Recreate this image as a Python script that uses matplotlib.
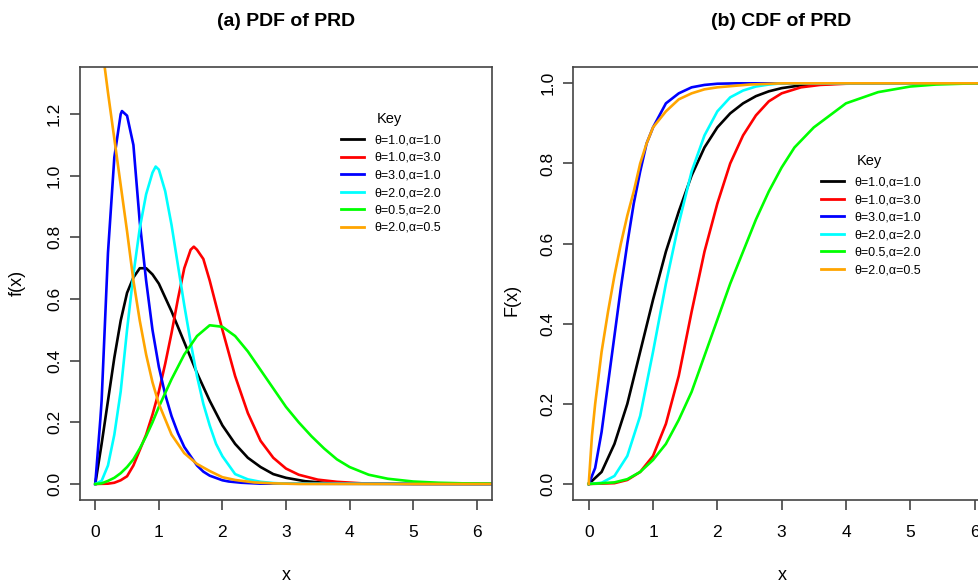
import matplotlib
matplotlib.use("Agg")
import matplotlib.pyplot as plt
from matplotlib import font_manager

# legend labels and colours (same order in both panels)
labels = ["θ=1.0,α=1.0", "θ=1.0,α=3.0", "θ=3.0,α=1.0",
          "θ=2.0,α=2.0", "θ=0.5,α=2.0", "θ=2.0,α=0.5"]
colors = ["black", "#FF0000", "#0000FF", "#00FFFF", "#00FF00", "#FFA500"]

# ---- (a) PDF values ----
pdf_x_black = [0, 0.1, 0.2, 0.3, 0.4, 0.5, 0.6, 0.7, 0.8, 0.9, 1.0, 1.2, 1.4, 1.6,
               1.8, 2.0, 2.2, 2.4, 2.6, 2.8, 3.0, 3.3, 3.6, 4.0, 6.3]
pdf_y_black = [0, 0.13, 0.27, 0.41, 0.53, 0.62, 0.67, 0.70, 0.70, 0.68, 0.65, 0.56, 0.46, 0.36,
               0.27, 0.19, 0.13, 0.085, 0.055, 0.032, 0.02, 0.009, 0.004, 0.001, 0]

pdf_x_red = [0, 0.2, 0.3, 0.4, 0.5, 0.6, 0.7, 0.8, 0.9, 1.0, 1.1, 1.2, 1.3, 1.4, 1.5, 1.55,
             1.6, 1.7, 1.8, 1.9, 2.0, 2.2, 2.4, 2.6, 2.8, 3.0, 3.2, 3.5, 3.8, 4.2, 5.0, 6.3]
pdf_y_red = [0, 0.001, 0.004, 0.012, 0.025, 0.06, 0.11, 0.16, 0.225, 0.3, 0.39, 0.49, 0.6, 0.7, 0.76, 0.77,
             0.76, 0.73, 0.66, 0.58, 0.5, 0.35, 0.23, 0.14, 0.085, 0.05, 0.03, 0.014, 0.007, 0.002, 0, 0]

pdf_x_blue = [0, 0.08, 0.1, 0.2, 0.3, 0.4, 0.42, 0.5, 0.6, 0.7, 0.8, 0.9, 1.0, 1.1, 1.2,
              1.3, 1.4, 1.5, 1.6, 1.7, 1.8, 2.0, 2.1, 2.3, 2.6, 6.3]
pdf_y_blue = [0, 0.21, 0.27, 0.75, 1.06, 1.2, 1.21, 1.195, 1.1, 0.85, 0.66, 0.5, 0.38, 0.29, 0.22,
              0.165, 0.12, 0.09, 0.06, 0.04, 0.027, 0.012, 0.008, 0.004, 0.001, 0]

pdf_x_cyan = [0, 0.1, 0.2, 0.3, 0.4, 0.5, 0.6, 0.7, 0.8, 0.9, 0.95, 1.0, 1.1, 1.2, 1.3,
              1.4, 1.5, 1.6, 1.7, 1.8, 1.9, 2.0, 2.2, 2.4, 2.6, 2.8, 3.0, 6.3]
pdf_y_cyan = [0, 0.01, 0.06, 0.16, 0.3, 0.5, 0.68, 0.83, 0.94, 1.01, 1.03, 1.02, 0.95, 0.84, 0.71,
              0.58, 0.46, 0.35, 0.26, 0.19, 0.13, 0.09, 0.032, 0.015, 0.007, 0.003, 0.001, 0]

pdf_x_green = [0, 0.1, 0.2, 0.3, 0.4, 0.5, 0.6, 0.7, 0.8, 0.9, 1.0, 1.2, 1.4, 1.6, 1.8, 2.0,
               2.2, 2.4, 2.6, 2.8, 3.0, 3.2, 3.4, 3.6, 3.8, 4.0, 4.3, 4.6, 5.0, 5.4, 5.8, 6.3]
pdf_y_green = [0, 0.002, 0.01, 0.02, 0.035, 0.055, 0.08, 0.115, 0.155, 0.2, 0.25, 0.34, 0.42, 0.48, 0.515, 0.51,
               0.48, 0.43, 0.37, 0.31, 0.25, 0.2, 0.155, 0.115, 0.08, 0.055, 0.03, 0.017, 0.008, 0.004, 0.002, 0.001]

pdf_x_orange = [0.1, 0.15, 0.2, 0.3, 0.4, 0.5, 0.6, 0.7, 0.8, 0.9, 1.0, 1.2, 1.4, 1.6,
                1.8, 2.0, 2.2, 2.5, 2.8, 3.2, 6.3]
pdf_y_orange = [1.42, 1.35, 1.27, 1.12, 0.97, 0.82, 0.66, 0.53, 0.42, 0.33, 0.26, 0.16, 0.1, 0.065,
                0.042, 0.022, 0.013, 0.005, 0.002, 0, 0]

# ---- (b) CDF values ----
cdf_x_black = [0, 0.2, 0.4, 0.6, 0.8, 1.0, 1.2, 1.4, 1.6, 1.8, 2.0, 2.2, 2.4, 2.6, 2.8,
               3.0, 3.3, 3.6, 4.0, 6.3]
cdf_y_black = [0, 0.03, 0.1, 0.2, 0.33, 0.46, 0.58, 0.68, 0.77, 0.84, 0.89, 0.925, 0.95, 0.968, 0.98,
               0.988, 0.995, 0.998, 1.0, 1.0]

cdf_x_red = [0, 0.4, 0.6, 0.8, 1.0, 1.2, 1.4, 1.6, 1.8, 2.0, 2.2, 2.4, 2.6, 2.8, 3.0,
             3.3, 3.6, 4.0, 4.5, 6.3]
cdf_y_red = [0, 0.002, 0.01, 0.03, 0.07, 0.15, 0.27, 0.43, 0.58, 0.7, 0.8, 0.87, 0.92, 0.955, 0.975,
             0.99, 0.996, 0.999, 1.0, 1.0]

cdf_x_blue = [0, 0.1, 0.2, 0.3, 0.4, 0.5, 0.6, 0.7, 0.8, 0.9, 1.0, 1.2, 1.4, 1.6, 1.8,
              2.0, 2.3, 6.3]
cdf_y_blue = [0, 0.04, 0.13, 0.25, 0.37, 0.49, 0.6, 0.7, 0.78, 0.85, 0.89, 0.95, 0.975, 0.99, 0.996,
              0.999, 1.0, 1.0]

cdf_x_cyan = [0, 0.2, 0.4, 0.6, 0.8, 1.0, 1.2, 1.4, 1.6, 1.8, 2.0, 2.2, 2.4, 2.6, 2.8,
              3.0, 6.3]
cdf_y_cyan = [0, 0.003, 0.02, 0.07, 0.17, 0.33, 0.5, 0.65, 0.78, 0.87, 0.93, 0.965, 0.982, 0.992, 0.997,
              1.0, 1.0]

cdf_x_green = [0, 0.4, 0.6, 0.8, 1.0, 1.2, 1.4, 1.6, 1.8, 2.0, 2.2, 2.4, 2.6, 2.8, 3.0,
               3.2, 3.5, 4.0, 4.5, 5.0, 5.4, 6.0, 6.3]
cdf_y_green = [0, 0.004, 0.012, 0.03, 0.06, 0.1, 0.16, 0.23, 0.32, 0.41, 0.5, 0.58, 0.66, 0.73, 0.79,
               0.84, 0.89, 0.95, 0.978, 0.992, 0.997, 1.0, 1.0]

cdf_x_orange = [0, 0.05, 0.1, 0.2, 0.3, 0.4, 0.5, 0.6, 0.7, 0.8, 0.9, 1.0, 1.2, 1.4, 1.6,
                1.8, 2.0, 2.5, 3.0, 6.3]
cdf_y_orange = [0, 0.12, 0.2, 0.33, 0.43, 0.52, 0.6, 0.67, 0.73, 0.8, 0.85, 0.89, 0.93, 0.96, 0.975,
                0.985, 0.99, 0.997, 1.0, 1.0]

pdf_curves = [(pdf_x_black, pdf_y_black), (pdf_x_red, pdf_y_red), (pdf_x_blue, pdf_y_blue),
              (pdf_x_cyan, pdf_y_cyan), (pdf_x_green, pdf_y_green), (pdf_x_orange, pdf_y_orange)]
cdf_curves = [(cdf_x_black, cdf_y_black), (cdf_x_red, cdf_y_red), (cdf_x_blue, cdf_y_blue),
              (cdf_x_cyan, cdf_y_cyan), (cdf_x_green, cdf_y_green), (cdf_x_orange, cdf_y_orange)]

names = {f.name for f in font_manager.fontManager.ttflist}
narrow = "Liberation Sans Narrow" if "Liberation Sans Narrow" in names else "Liberation Sans"
regular = "Liberation Sans"
plt.rcParams["font.family"] = [narrow, "DejaVu Sans"]

W, H = 979, 584
fig = plt.figure(figsize=(W / 100, H / 100), dpi=100)
axis_col = "#444444"


def px_box(left, top, right, bottom):
    return [left / W, 1 - bottom / H, (right - left) / W, (bottom - top) / H]


def style_axes(ax, yticks):
    for s in ax.spines.values():
        s.set_color(axis_col)
        s.set_linewidth(1.2)
    ax.set_xticks(range(0, 7))
    ax.set_yticks(yticks)
    ax.set_yticklabels([f"{v:.1f}" for v in yticks])
    ax.tick_params(axis="both", direction="out", length=7, width=1.2, color=axis_col,
                   labelsize=12.5, labelcolor="black")
    ax.tick_params(axis="x", pad=11)
    ax.tick_params(axis="y", pad=6, labelrotation=90)
    for lab in ax.get_yticklabels():
        lab.set_va("center")


def add_key(ax, left, top, key_x, key_y):
    leg = ax.legend(labels, loc="upper left", bbox_to_anchor=(left / W, 1 - top / H),
                    bbox_transform=fig.transFigure, frameon=False,
                    prop={"family": regular, "size": 9},
                    handlelength=1.85, handletextpad=0.8, labelspacing=0.44, borderpad=0,
                    borderaxespad=0)
    for line in leg.get_lines():
        line.set_linewidth(2)
    fig.text(key_x / W, 1 - key_y / H, "Key", ha="center", va="center",
             family=regular, fontsize=10.5)


# (a) PDF
ax1 = fig.add_axes(px_box(80, 67.3, 492, 500))
for (x, y), c in zip(pdf_curves, colors):
    ax1.plot(x, y, color=c, lw=1.9, solid_joinstyle="round")
ax1.set_xlim(-0.24, 6.24)
ax1.set_ylim(-0.052, 1.352)
style_axes(ax1, [0.0, 0.2, 0.4, 0.6, 0.8, 1.0, 1.2])
add_key(ax1, 341, 134.5, 389, 119.5)

# (b) CDF, its right border runs past the picture edge as in the original
ax2 = fig.add_axes(px_box(573.3, 67.3, 990, 500))
for (x, y), c in zip(cdf_curves, colors):
    ax2.plot(x, y, color=c, lw=1.9, solid_joinstyle="round")
ax2.set_xlim(-0.24, 6.24)
ax2.set_ylim(-0.04, 1.04)
style_axes(ax2, [0.0, 0.2, 0.4, 0.6, 0.8, 1.0])
add_key(ax2, 821, 176.5, 869, 161)

fig.text(286 / W, 1 - 22 / H, "(a) PDF of PRD", ha="center", va="center", fontsize=14, fontweight="bold")
fig.text(781 / W, 1 - 22 / H, "(b) CDF of PRD", ha="center", va="center", fontsize=14, fontweight="bold")
fig.text(286 / W, 1 - 576 / H, "x", ha="center", va="center", fontsize=13)
fig.text(782 / W, 1 - 576 / H, "x", ha="center", va="center", fontsize=13)
fig.text(17 / W, 1 - 283 / H, "f(x)", ha="center", va="center", rotation=90, fontsize=13)
fig.text(512 / W, 1 - 300 / H, "F(x)", ha="center", va="center", rotation=90, fontsize=13)

fig.savefig("out.png", dpi=100)
